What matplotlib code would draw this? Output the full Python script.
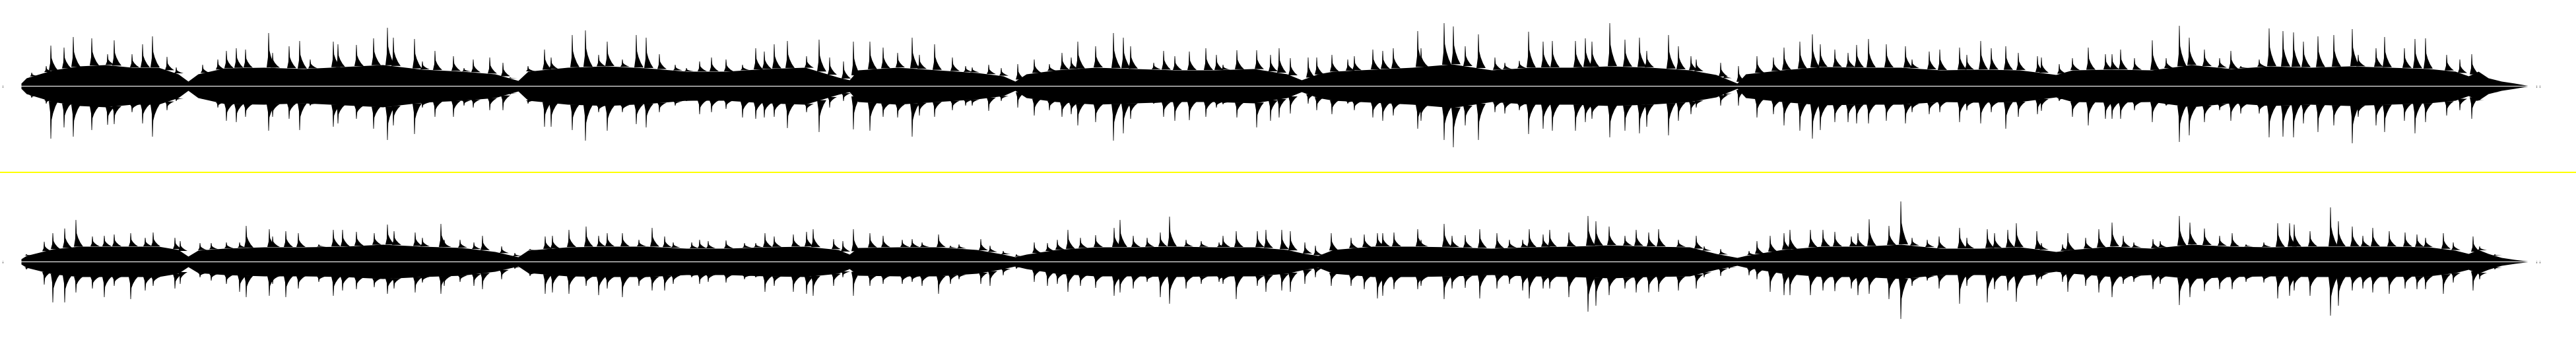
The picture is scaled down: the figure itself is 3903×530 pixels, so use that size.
import numpy as np
import matplotlib.pyplot as plt
from matplotlib.lines import Line2D

# channel 1 (top): column of each transient peak, and its amplitude above / below zero
top_x = [48, 70, 77, 97, 111, 139, 163, 173, 200, 216, 231, 253, 267, 307, 330, 343, 358, 372, 407, 413,
         438, 454, 470, 505, 512, 540, 566, 587, 596, 628, 640, 659, 687, 703, 717, 742, 762, 773, 800, 825,
         835, 867, 887, 907, 920, 943, 964, 979, 999, 1023, 1040, 1060, 1078, 1100, 1125, 1145, 1158, 1173, 1193, 1222,
         1241, 1257, 1278, 1293, 1318, 1338, 1360, 1382, 1393, 1416, 1443, 1463, 1473, 1498, 1517, 1542, 1567, 1590, 1609, 1623,
         1633, 1660, 1687, 1702, 1713, 1748, 1763, 1780, 1802, 1827, 1843, 1853, 1874, 1904, 1925, 1938, 1955, 1982, 1995, 2018,
         2042, 2052, 2080, 2095, 2111, 2148, 2153, 2188, 2202, 2220, 2240, 2265, 2280, 2302, 2316, 2338, 2352, 2387, 2402, 2412,
         2439, 2462, 2484, 2495, 2528, 2543, 2562, 2570, 2607, 2613, 2634, 2662, 2687, 2703, 2727, 2746, 2758, 2780, 2800, 2813,
         2831, 2858, 2887, 2897, 2923, 2939, 2969, 2980, 3001, 3017, 3039, 3058, 3087, 3093, 3120, 3140, 3164, 3190, 3200, 3213,
         3234, 3261, 3282, 3302, 3317, 3340, 3363, 3380, 3395, 3423, 3438, 3459, 3475, 3490, 3512, 3536, 3564, 3573, 3600, 3613,
         3643, 3659, 3675, 3707, 3727, 3745, 3753, 3780, 3800, 3820]
top_up = [20, 30, 61, 58, 74, 72, 48, 69, 48, 63, 75, 44, 28, 32, 40, 53, 57, 55, 80, 50,
          60, 68, 40, 67, 63, 62, 72, 88, 73, 71, 37, 53, 45, 27, 40, 43, 35, 13, 30, 55,
          43, 77, 84, 47, 67, 40, 77, 73, 48, 32, 27, 37, 43, 40, 32, 57, 52, 63, 68, 45,
          70, 43, 37, 67, 67, 58, 50, 73, 47, 63, 43, 30, 28, 32, 27, 33, 40, 33, 50, 43,
          67, 60, 80, 73, 60, 35, 53, 45, 52, 57, 47, 32, 54, 54, 47, 57, 42, 43, 43, 47,
          40, 45, 55, 53, 57, 83, 57, 95, 90, 60, 78, 43, 35, 38, 82, 67, 68, 68, 72, 67,
          95, 70, 73, 53, 77, 60, 45, 40, 35, 17, 30, 45, 43, 58, 67, 78, 63, 55, 50, 62,
          71, 63, 60, 40, 52, 55, 58, 47, 68, 57, 60, 50, 45, 43, 33, 42, 58, 48, 48, 55,
          42, 69, 42, 91, 73, 55, 42, 53, 30, 40, 87, 83, 81, 67, 75, 77, 86, 47, 57, 74,
          57, 71, 72, 47, 40, 48, 20, 8, 3, 1]
top_down = [18, 27, 80, 63, 77, 67, 59, 58, 40, 57, 77, 37, 23, 20, 33, 53, 55, 47, 68, 47,
            50, 67, 30, 62, 57, 50, 65, 82, 60, 73, 33, 47, 47, 30, 33, 37, 37, 13, 27, 62,
            62, 67, 83, 40, 68, 40, 58, 63, 40, 30, 23, 43, 40, 35, 48, 50, 48, 47, 64, 40,
            70, 33, 23, 66, 68, 47, 48, 77, 45, 47, 37, 30, 30, 38, 23, 33, 45, 37, 47, 43,
            60, 55, 83, 72, 50, 27, 47, 53, 52, 47, 33, 28, 48, 63, 53, 48, 42, 27, 37, 43,
            27, 37, 48, 53, 45, 65, 53, 82, 93, 60, 82, 40, 42, 37, 73, 65, 68, 68, 55, 50,
            78, 68, 72, 62, 75, 53, 43, 33, 30, 17, 30, 48, 43, 60, 68, 80, 67, 55, 55, 57,
            57, 53, 57, 40, 43, 40, 55, 37, 57, 40, 65, 47, 43, 38, 23, 47, 60, 50, 50, 50,
            37, 55, 30, 85, 75, 55, 37, 53, 42, 42, 78, 77, 78, 57, 70, 60, 87, 47, 60, 70,
            53, 72, 55, 45, 37, 50, 23, 10, 3, 1]

# channel 2 (bottom)
bot_x = [40, 67, 80, 98, 115, 140, 158, 173, 198, 220, 232, 265, 273, 303, 320, 343, 363, 373, 408, 413,
         433, 452, 483, 505, 519, 540, 567, 587, 597, 629, 640, 668, 673, 697, 718, 731, 760, 780, 803, 826,
         837, 862, 888, 907, 920, 943, 968, 988, 1007, 1020, 1048, 1060, 1073, 1100, 1128, 1145, 1159, 1173, 1202, 1222,
         1232, 1263, 1277, 1293, 1318, 1338, 1367, 1382, 1397, 1422, 1440, 1453, 1486, 1500, 1520, 1540, 1567, 1587, 1602, 1618,
         1637, 1660, 1688, 1697, 1717, 1738, 1758, 1772, 1797, 1820, 1847, 1853, 1873, 1905, 1918, 1942, 1955, 1977, 1993, 2017,
         2047, 2067, 2087, 2095, 2112, 2148, 2153, 2188, 2200, 2220, 2242, 2268, 2287, 2307, 2317, 2338, 2348, 2377, 2406, 2418,
         2438, 2462, 2479, 2498, 2513, 2543, 2570, 2582, 2607, 2620, 2650, 2662, 2682, 2703, 2712, 2743, 2762, 2780, 2805, 2815,
         2832, 2862, 2880, 2897, 2920, 2938, 2969, 2980, 3011, 3022, 3042, 3055, 3086, 3093, 3125, 3133, 3160, 3180, 3200, 3217,
         3233, 3262, 3273, 3302, 3318, 3340, 3363, 3382, 3403, 3430, 3451, 3469, 3476, 3500, 3531, 3543, 3564, 3580, 3595, 3620,
         3644, 3662, 3675, 3702, 3717, 3747, 3757, 3780, 3800, 3820]
bot_up = [11, 30, 43, 50, 63, 38, 39, 41, 43, 36, 44, 36, 31, 28, 28, 29, 29, 54, 49, 38,
          46, 43, 26, 48, 48, 45, 43, 56, 46, 44, 36, 57, 33, 33, 29, 39, 23, 13, 19, 38,
          39, 48, 53, 39, 43, 43, 33, 51, 38, 29, 29, 33, 31, 32, 28, 28, 43, 38, 41, 45,
          49, 34, 31, 49, 43, 39, 33, 34, 29, 41, 24, 26, 34, 24, 16, 11, 29, 28, 33, 48,
          36, 40, 51, 63, 39, 36, 44, 68, 33, 31, 29, 39, 46, 46, 48, 48, 46, 29, 24, 43,
          36, 41, 43, 43, 44, 49, 33, 57, 39, 40, 49, 43, 33, 33, 49, 41, 48, 44, 69, 61,
          53, 39, 48, 44, 49, 33, 39, 23, 19, 8, 16, 31, 39, 43, 48, 48, 48, 45, 38, 43,
          64, 54, 91, 36, 33, 38, 51, 36, 49, 43, 48, 58, 46, 28, 26, 43, 36, 49, 59, 39,
          29, 34, 31, 69, 59, 50, 39, 43, 26, 29, 58, 58, 56, 46, 82, 61, 53, 39, 51, 46,
          44, 41, 36, 43, 29, 38, 23, 11, 4, 1]
bot_down = [12, 35, 62, 62, 47, 41, 54, 37, 57, 44, 37, 41, 34, 24, 29, 34, 46, 54, 52, 34,
            54, 41, 31, 52, 44, 42, 39, 49, 41, 47, 32, 49, 37, 31, 37, 42, 27, 11, 22, 49,
            47, 49, 37, 51, 41, 54, 37, 44, 44, 34, 24, 34, 31, 32, 27, 24, 46, 37, 46, 49,
            52, 37, 24, 52, 37, 34, 34, 31, 37, 49, 34, 27, 34, 37, 21, 11, 31, 37, 34, 46,
            37, 40, 52, 47, 41, 31, 54, 64, 41, 34, 31, 34, 57, 37, 46, 44, 46, 34, 24, 37,
            37, 42, 56, 52, 42, 42, 37, 57, 41, 40, 56, 41, 34, 44, 56, 41, 41, 54, 76, 67,
            51, 41, 47, 47, 46, 44, 41, 24, 22, 11, 21, 27, 46, 51, 51, 51, 44, 45, 41, 51,
            49, 57, 87, 37, 29, 41, 64, 37, 62, 42, 44, 61, 37, 27, 31, 46, 37, 47, 54, 34,
            31, 42, 34, 66, 54, 45, 42, 42, 31, 32, 56, 52, 44, 52, 82, 67, 44, 41, 47, 49,
            41, 42, 42, 49, 32, 44, 27, 12, 4, 1]

# dense level of each channel (symmetric), sampled at irregular columns
body_x = [32, 40, 80, 120, 160, 200, 240, 270, 285, 300, 340, 400, 460, 520, 580, 640, 700,
          750, 785, 800, 860, 920, 980, 1040, 1100, 1160, 1220, 1270, 1287, 1300, 1360, 1420,
          1480, 1520, 1538, 1555, 1600, 1660, 1720, 1780, 1840, 1900, 1950, 1972, 1997, 2020,
          2080, 2140, 2200, 2260, 2320, 2380, 2440, 2500, 2560, 2600, 2632, 2645, 2700, 2760,
          2820, 2880, 2940, 3000, 3060, 3100, 3115, 3140, 3200, 3260, 3320, 3380, 3440, 3500,
          3560, 3620, 3680, 3720, 3740, 3755, 3770, 3790, 3810, 3830]
top_body = [4, 12, 24, 30, 32, 28, 28, 18, 7, 18, 27, 28, 26, 29, 32, 25, 22,
            18, 8, 22, 28, 30, 27, 22, 22, 26, 28, 13, 9, 24, 28, 24,
            20, 15, 7, 18, 24, 28, 26, 24, 24, 26, 18, 9, 18, 22,
            25, 28, 33, 24, 28, 28, 30, 28, 24, 17, 4, 18, 24, 29,
            28, 28, 24, 25, 24, 19, 17, 24, 25, 24, 32, 26, 30, 28,
            30, 28, 26, 22, 15, 22, 12, 7, 4, 0.5]
bot_body = [4, 9, 19, 23, 23, 23, 23, 18, 8, 17, 20, 22, 22, 23, 26, 23, 21,
            15, 7, 17, 22, 23, 23, 20, 20, 22, 23, 18, 11, 21, 22, 22,
            18, 11, 7, 11, 18, 22, 22, 23, 22, 22, 18, 13, 9, 18,
            23, 23, 22, 20, 22, 23, 25, 23, 22, 12, 6, 9, 18, 23,
            23, 26, 20, 20, 22, 17, 15, 18, 23, 20, 26, 23, 22, 23,
            23, 23, 22, 17, 12, 18, 12, 6, 3, 0.5]

# isolated near-silent samples before the start and after the end
stray_x = [4, 3843, 3848]
stray_amp = [1.5, 1.5, 1.5]

W, H = 3903, 530
fig = plt.figure(figsize=(W / 100, H / 100), dpi=100, facecolor='white')

ax_top = fig.add_axes([0, 270 / H, 1, 260 / H])
ax_bot = fig.add_axes([0, 0, 1, 268 / H])

# shape of one note: sharp attack, decaying tail (offsets in columns, fraction of height)
shape_dx = [-3, -1, -0.4, 0.4, 1.2, 3.5, 7, 11]
shape_f = [0, 0.3, 1, 1, 0.5, 0.32, 0.14, 0]


def draw_channel(ax, xs, up, down, body, half):
    body = np.array(body, dtype=float)
    ax.fill_between(body_x, -body, body, color='black', lw=0)
    for xi, u, d in zip(xs, up, down):
        b = np.interp(xi, body_x, body)
        for p, s in ((u, 1), (d, -1)):
            if p <= b:
                continue
            px = [xi + dx for dx in shape_dx]
            py = [s * (b + f * (p - b)) for f in shape_f]
            ax.fill(px, py, color='black', lw=0)
    ax.vlines(stray_x, [-a for a in stray_amp], stray_amp, color='#555555', lw=1)
    ax.axhline(0, color='white', lw=0.8)
    ax.set_xlim(0, W)
    ax.set_ylim(-half, half)
    ax.set_axis_off()


draw_channel(ax_top, top_x, top_up, top_down, top_body, 130)
draw_channel(ax_bot, bot_x, bot_up, bot_down, bot_body, 134)

# yellow separator between the two channels
fig.add_artist(Line2D([0, 1], [269.5 / H, 269.5 / H], color='#ffff00', lw=1.2,
                      antialiased=False))

fig.savefig('out.png', dpi=100, facecolor='white')
